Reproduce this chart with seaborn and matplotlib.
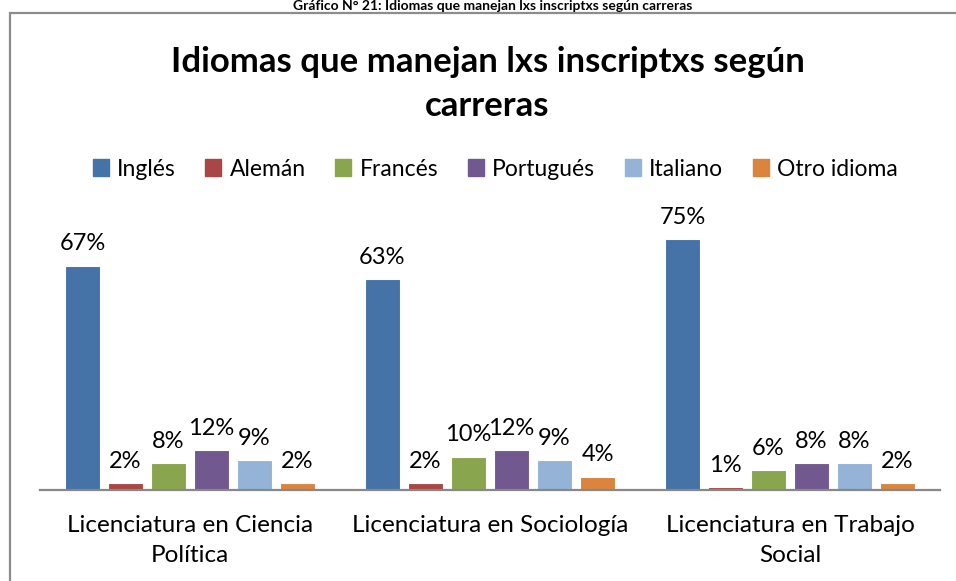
import matplotlib
matplotlib.use("Agg")
import matplotlib.pyplot as plt
import matplotlib.patches as mpatches
import seaborn as sns
import pandas as pd

"""
Idiomas que manejan lxs inscriptxs, por carrera
"""

carreras = ["Licenciatura en Ciencia\nPolítica",
            "Licenciatura en Sociología",
            "Licenciatura en Trabajo\nSocial"]
idiomas = ["Inglés", "Alemán", "Francés", "Portugués", "Italiano", "Otro idioma"]

ciencia_politica = [67, 2, 8, 12, 9, 2]
sociologia = [63, 2, 10, 12, 9, 4]
trabajo_social = [75, 1, 6, 8, 8, 2]

colores = ["#4572A7", "#AA4643", "#89A54E", "#71588F", "#95B3D7", "#DB843D"]

rows = []
for carrera, valores in zip(carreras, [ciencia_politica, sociologia, trabajo_social]):
    for idioma, v in zip(idiomas, valores):
        rows.append({"carrera": carrera, "idioma": idioma, "pct": v})
df = pd.DataFrame(rows)

sns.set_theme(style="white")
plt.rcParams["font.family"] = ["Lato", "DejaVu Sans"]
plt.rcParams["text.color"] = "black"

fig = plt.figure(figsize=(9.56, 5.81), dpi=100)
ax = fig.add_axes([40 / 956, 91 / 581, 900 / 956, 268 / 581])

sns.barplot(data=df, x="carrera", y="pct", hue="idioma", order=carreras,
            hue_order=idiomas, palette=colores, saturation=1, width=0.86, gap=0.2,
            edgecolor="white", linewidth=0.8, legend=False, ax=ax)

for cont in ax.containers:
    ax.bar_label(cont, labels=[f"{int(round(b.get_height()))}%" for b in cont],
                 padding=8, fontsize=17, color="black", clip_on=False)

ax.set_ylim(0, 80)
ax.set_xlim(-0.5, 2.5)
ax.set_xlabel("")
ax.set_ylabel("")
ax.set_yticks([])
ax.tick_params(axis="x", length=0, pad=18, labelsize=17.5)
for lbl in ax.get_xticklabels():
    lbl.set_color("black")
    lbl.set_linespacing(1.5)
for side in ["top", "right", "left"]:
    ax.spines[side].set_visible(False)
ax.spines["bottom"].set_color("#888888")
ax.spines["bottom"].set_linewidth(1.6)

# marco del gráfico (recortado a derecha y abajo)
fig.patches.append(mpatches.Rectangle((9.5 / 956, -0.2), 1.2, 1.2 - 12.5 / 581,
                                      transform=fig.transFigure, fill=False,
                                      edgecolor="#8C8C8C", linewidth=1.6))

fig.text(0.51, 1 - 62 / 581, "Idiomas que manejan lxs inscriptxs según",
         ha="center", va="center", fontsize=25, fontweight="bold")
fig.text(0.51, 1 - 106 / 581, "carreras",
         ha="center", va="center", fontsize=25, fontweight="bold")
fig.text(0.515, 1 - 0.5 / 581, "Gráfico N° 21: Idiomas que manejan lxs inscriptxs según carreras",
         ha="center", va="top", fontsize=10, fontweight="bold")

handles = [mpatches.Patch(color=c, label=l) for c, l in zip(colores, idiomas)]
fig.legend(handles=handles, loc="center", bbox_to_anchor=(0.518, 1 - 169 / 581),
           ncol=6, frameon=False, fontsize=16.5, handlelength=0.7, handleheight=0.7,
           handletextpad=0.35, columnspacing=1.3)

fig.savefig("out.png", dpi=100, facecolor="white")
